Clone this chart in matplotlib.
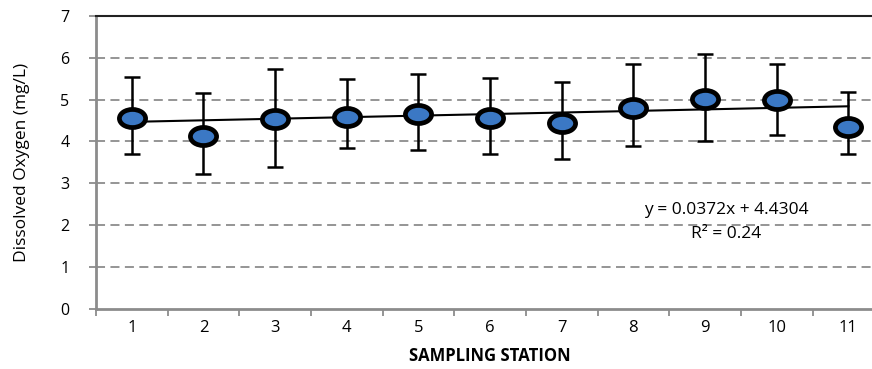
import numpy as np
import matplotlib
matplotlib.use("Agg")
import matplotlib.pyplot as plt
from matplotlib.markers import MarkerStyle
from matplotlib.transforms import Affine2D

# values
stations = [1, 2, 3, 4, 5, 6, 7, 8, 9, 10, 11]
station_labels = ["1", "2", "3", "4", "5", "6", "7", "8", "9", "10", "11"]
do_mean = [4.55, 4.13, 4.53, 4.59, 4.65, 4.57, 4.43, 4.80, 5.01, 4.99, 4.35]
err_top = [5.54, 5.15, 5.73, 5.50, 5.60, 5.51, 5.41, 5.86, 6.09, 5.86, 5.19]
err_bottom = [3.70, 3.21, 3.40, 3.84, 3.79, 3.70, 3.59, 3.90, 4.00, 4.15, 3.71]
slope, intercept = 0.0372, 4.4304
y_ticks = [0, 1, 2, 3, 4, 5, 6, 7]

plt.rcParams['font.family'] = ['Open Sans', 'DejaVu Sans']

x = np.array(stations)
mean = np.array(do_mean)
yerr = [mean - np.array(err_bottom), np.array(err_top) - mean]

fig = plt.figure(figsize=(8.72, 3.69), dpi=100)
ax = fig.add_axes([0.110, 0.163, 0.904, 0.794])

ax.set_xlim(0.5, 11.5)
ax.set_ylim(0, 7)

for yv in y_ticks[1:-1]:
    ax.axhline(yv, color='#8c8c8c', lw=1.3, ls=(0, (5, 3)), zorder=0)

# error bars
ax.errorbar(x, mean, yerr=yerr, fmt='none', ecolor='black', elinewidth=1.8,
            capsize=6, capthick=1.8, zorder=2)

# linear trend line
ax.plot(x, slope * x + intercept, color='black', lw=1.5, zorder=3)

# elliptical markers
mk = MarkerStyle('o', transform=Affine2D().scale(1.45, 1.0))
ax.plot(x, mean, ls='none', marker=mk, markersize=13, markerfacecolor='#3b78c4',
        markeredgecolor='black', markeredgewidth=3.4, zorder=4)

ax.text(9.3, 2.37, "y = 0.0372x + 4.4304", ha='center', va='center', fontsize=12.5)
ax.text(9.3, 1.8, "R² = 0.24", ha='center', va='center', fontsize=12.5)

ax.set_yticks(y_ticks)
ax.set_yticklabels([str(v) for v in y_ticks], fontsize=11.5)
ax.set_xticks(x)
ax.set_xticklabels(station_labels, fontsize=12)
ax.tick_params(axis='x', length=0, pad=8)
ax.set_xticks(np.arange(0.5, 12, 1), minor=True)
ax.tick_params(axis='x', which='minor', length=5, width=1.3, color='#8c8c8c')
ax.tick_params(axis='y', length=5, width=1.3, color='#8c8c8c', pad=14)

for s in ['left', 'bottom']:
    ax.spines[s].set_color('#8c8c8c')
    ax.spines[s].set_linewidth(2)
ax.spines['right'].set_visible(False)
ax.spines['top'].set_color('#222222')
ax.spines['top'].set_linewidth(1.5)

ax.set_xlabel("SAMPLING STATION", fontsize=12, fontweight='bold', labelpad=8)
ax.set_ylabel("Dissolved Oxygen (mg/L)", fontsize=12.5, labelpad=22)

fig.savefig("out.png", dpi=100)
